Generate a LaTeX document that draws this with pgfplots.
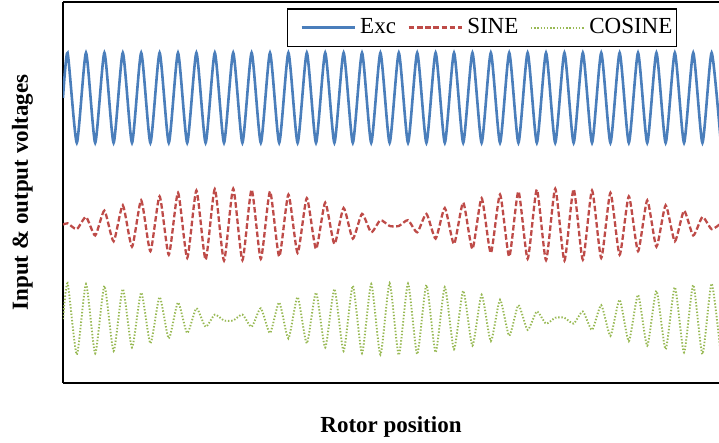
\documentclass[border=0pt]{standalone}
\usepackage{fontspec}
\setmainfont{Liberation Serif}
\usepackage{pgfplots}
\usepackage{pgfplotstable}
\pgfplotsset{compat=1.18}

\definecolor{excblue}{RGB}{74,126,187}
\definecolor{sinered}{RGB}{190,75,72}
\definecolor{cosgreen}{RGB}{152,185,84}

% rotor position in degrees; start value, then the peaks and troughs of each signal
\pgfplotstableread{
x exc sine cosine
0 6.34 3.52 1.42
2.5 7.34 3.55 2.22
7.5 5.34 3.42 0.63
12.5 7.34 3.69 2.20
17.5 5.34 3.28 0.66
22.5 7.34 3.83 2.16
27.5 5.34 3.15 0.71
32.5 7.34 3.95 2.09
37.5 5.34 3.03 0.79
42.5 7.34 4.06 2.01
47.5 5.34 2.93 0.88
52.5 7.34 4.15 1.91
57.5 5.34 2.85 0.99
62.5 7.34 4.23 1.79
67.5 5.34 2.78 1.11
72.5 7.34 4.28 1.66
77.5 5.34 2.74 1.25
82.5 7.34 4.31 1.52
87.5 5.34 2.72 1.39
92.5 7.34 4.32 1.39
97.5 5.34 2.73 1.52
102.5 7.34 4.30 1.25
107.5 5.34 2.76 1.66
112.5 7.34 4.26 1.11
117.5 5.34 2.81 1.79
122.5 7.34 4.19 0.99
127.5 5.34 2.89 1.91
132.5 7.34 4.11 0.88
137.5 5.34 2.98 2.01
142.5 7.34 4.01 0.79
147.5 5.34 3.09 2.09
152.5 7.34 3.89 0.71
157.5 5.34 3.21 2.16
162.5 7.34 3.76 0.66
167.5 5.34 3.35 2.20
172.5 7.34 3.62 0.63
177.5 5.34 3.49 2.22
182.5 7.34 3.49 0.62
187.5 5.34 3.62 2.21
192.5 7.34 3.35 0.64
197.5 5.34 3.76 2.18
202.5 7.34 3.21 0.68
207.5 5.34 3.89 2.13
212.5 7.34 3.09 0.75
217.5 5.34 4.01 2.05
222.5 7.34 2.98 0.83
227.5 5.34 4.11 1.96
232.5 7.34 2.89 0.93
237.5 5.34 4.19 1.85
242.5 7.34 2.81 1.05
247.5 5.34 4.26 1.73
252.5 7.34 2.76 1.18
257.5 5.34 4.30 1.59
262.5 7.34 2.73 1.32
267.5 5.34 4.32 1.45
272.5 7.34 2.72 1.45
277.5 5.34 4.31 1.32
282.5 7.34 2.74 1.59
287.5 5.34 4.28 1.18
292.5 7.34 2.78 1.73
297.5 5.34 4.23 1.05
302.5 7.34 2.85 1.85
307.5 5.34 4.15 0.93
312.5 7.34 2.93 1.96
317.5 5.34 4.06 0.83
322.5 7.34 3.03 2.05
327.5 5.34 3.95 0.75
332.5 7.34 3.15 2.13
337.5 5.34 3.83 0.68
342.5 7.34 3.28 2.18
347.5 5.34 3.69 0.64
352.5 7.34 3.42 2.21
357.5 5.34 3.55 0.62
}\resolver

\begin{document}
\begin{tikzpicture}
\begin{axis}[
  scale only axis,
  width=328pt, height=190.5pt,
  xmin=0, xmax=356.5,
  ymin=0, ymax=8.47,
  xtick=\empty, ytick=\empty,
  axis x line*=box, axis y line*=left,
  axis line style={line width=1pt, black},
  font=\fontsize{11.5}{13.5}\selectfont,
  xlabel={\bfseries Rotor position},
  ylabel={\bfseries Input \& output voltages},
  every axis x label/.style={at={(axis description cs:0.5,0)}, anchor=base, yshift=-24.65pt},
  every axis y label/.style={at={(axis description cs:-0.062,0.5)}, rotate=90, anchor=center},
  legend columns=3,
  legend style={at={(axis description cs:0.936,0.9835)}, anchor=north east,
    draw=black, line width=0.65pt, inner xsep=2pt, inner ysep=4.8pt,
    nodes={inner sep=0pt},
    /tikz/every odd column/.append style={column sep=2.2pt},
    /tikz/every even column/.append style={column sep=1.3pt},
    font=\fontsize{11.5}{13.5}\selectfont},
  legend image code/.code={\path (-4.5pt,0pt); \draw[#1] (0pt,0pt) -- (26.5pt,0pt);},
]
\addplot[excblue, line width=1.3pt, smooth, tension=0.363] table[x=x, y=exc] {\resolver};
\addlegendentry{Exc}
\addplot[sinered, line width=1.15pt, dash pattern=on 2.8pt off 1.3pt, smooth, tension=0.363] table[x=x, y=sine] {\resolver};
\addlegendentry{SINE}
\addplot[cosgreen, line width=0.95pt, dash pattern=on 0.7pt off 0.9pt, smooth, tension=0.363] table[x=x, y=cosine] {\resolver};
\addlegendentry{COSINE}
\end{axis}
\pgfresetboundingbox
\path (current axis.south west) ++(-31.5pt,-30pt) rectangle ++(359.5pt,221.5pt);
\end{tikzpicture}
\end{document}
